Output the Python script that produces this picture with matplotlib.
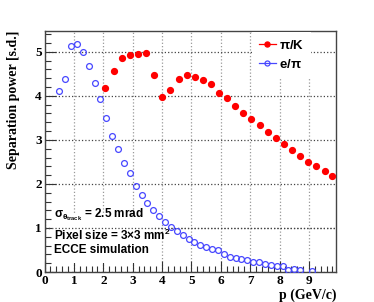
import matplotlib
matplotlib.use('Agg')
import matplotlib.pyplot as plt
from matplotlib.ticker import MultipleLocator
from matplotlib.patches import Rectangle
from matplotlib.lines import Line2D

# ======================
# DATA
# ======================

# pi/K separation
p_piK = [2.07, 2.35, 2.63, 2.91, 3.18, 3.45, 3.73, 4.01, 4.28, 4.56,
         4.84, 5.11, 5.39, 5.66, 5.94, 6.21, 6.49, 6.76, 7.03, 7.32,
         7.59, 7.87, 8.15, 8.42, 8.69, 8.96, 9.25, 9.53, 9.80]
sep_piK = [4.17, 4.56, 4.86, 4.92, 4.95, 4.98, 4.48, 3.98, 4.13, 4.38,
           4.47, 4.43, 4.35, 4.27, 4.07, 3.95, 3.77, 3.62, 3.47, 3.33,
           3.18, 3.04, 2.90, 2.77, 2.64, 2.50, 2.41, 2.30, 2.18]

# e/pi separation
p_epi = [0.5, 0.7, 0.9, 1.1, 1.3, 1.5, 1.7, 1.9, 2.1, 2.3,
         2.5, 2.7, 2.9, 3.1, 3.3, 3.5, 3.7, 3.9, 4.1, 4.3,
         4.5, 4.7, 4.9, 5.1, 5.3, 5.5, 5.7, 5.9, 6.1, 6.3,
         6.5, 6.7, 6.9, 7.1, 7.3, 7.5, 7.7, 7.9, 8.1, 8.3,
         8.5, 8.7, 9.1]
sep_epi = [4.11, 4.39, 5.14, 5.17, 4.99, 4.67, 4.30, 3.93, 3.49, 3.08,
           2.80, 2.48, 2.24, 1.95, 1.74, 1.57, 1.41, 1.28, 1.14, 1.02,
           0.93, 0.83, 0.76, 0.68, 0.61, 0.56, 0.52, 0.49, 0.42, 0.34,
           0.31, 0.30, 0.27, 0.23, 0.22, 0.19, 0.15, 0.13, 0.13, 0.05,
           0.07, 0.04, 0.02]

red = '#ff0000'
blue = '#4848ff'
serif = 'Liberation Serif'
sans = 'Liberation Sans'
plt.rcParams['mathtext.fontset'] = 'custom'
plt.rcParams['mathtext.rm'] = 'Liberation Sans:bold'
plt.rcParams['mathtext.it'] = 'Liberation Sans:bold'
plt.rcParams['mathtext.bf'] = 'Liberation Sans:bold'

fig = plt.figure(figsize=(3.74, 3.02), dpi=100)
ax = fig.add_axes([0.1193, 0.0993, 0.7791, 0.7990])

ax.plot(p_piK, sep_piK, 'o', color=red, ms=4.2, zorder=4)
ax.plot(p_epi, sep_epi, 'o', mfc='none', mec=blue, mew=0.9, ms=4.2, zorder=4)

ax.set_xlim(0, 9.92)
ax.set_ylim(0, 5.48)

# ROOT-like axes
ax.xaxis.set_major_locator(MultipleLocator(1))
ax.xaxis.set_minor_locator(MultipleLocator(0.2))
ax.yaxis.set_major_locator(MultipleLocator(1))
ax.yaxis.set_minor_locator(MultipleLocator(0.2))
ax.tick_params(which='both', direction='in', top=False, right=False, colors='#333333')
ax.tick_params(which='major', length=8, width=0.8, pad=2)
ax.tick_params(which='minor', length=4, width=0.8)
for lab in ax.get_xticklabels() + ax.get_yticklabels():
    lab.set_fontfamily(serif)
    lab.set_fontweight('bold')
    lab.set_fontsize(9.5)
    lab.set_color('black')
for sp in ax.spines.values():
    sp.set_color('#444444')
    sp.set_linewidth(1.0)

ax.grid(True, which='major', axis='x', linestyle=':', color='#999999', linewidth=0.9, zorder=1)
ax.grid(True, which='major', axis='y', linestyle=':', color='#444444', linewidth=0.9, zorder=1)
ax.set_axisbelow(True)

ax.set_xlabel('p (GeV/c)', fontfamily=serif, fontweight='bold', fontsize=10, loc='right')
ax.xaxis.set_label_coords(1.0, -0.07)
ax.set_ylabel('Separation power [s.d.]', fontfamily=serif, fontweight='bold', fontsize=10, loc='top')
ax.yaxis.set_label_coords(-0.085, 1.0)

# white pave behind the text block
ax.add_patch(Rectangle((0.25, 0.2), 3.5, 1.15, facecolor='white', edgecolor='none', zorder=2))
ax.axhline(1.0, linestyle=':', color='#444444', linewidth=0.9, zorder=2.5)

ax.text(0.32, 1.30, r'$\sigma_{\theta_{track}}$ = 2.5 mrad', fontfamily=sans, fontweight='bold',
        fontsize=8.5, va='center', zorder=3)
ax.text(0.32, 0.84, r'Pixel size = 3$\times$3 mm$^2$', fontfamily=sans, fontweight='bold',
        fontsize=8.5, va='center', zorder=3)
ax.text(0.32, 0.50, 'ECCE simulation', fontfamily=sans, fontweight='bold',
        fontsize=8.5, va='center', zorder=3)

# legend entries with line through marker (ROOT "lep" style)
handles = [Line2D([], [], color=red, marker='o', ms=3.6, lw=0.9),
           Line2D([], [], color=blue, marker='o', mfc='none', mec=blue, mew=0.9, ms=3.6, lw=0.9)]
leg = ax.legend(handles, [r'$\pi$/K', r'e/$\pi$'], loc='upper left',
                bbox_to_anchor=(0.69, 1.02), frameon=True,
                fancybox=False, framealpha=1.0, edgecolor='none', handlelength=1.3,
                handletextpad=0.2, labelspacing=0.45, borderpad=0.5,
                prop={'family': sans, 'weight': 'bold', 'size': 9.5})
leg.set_zorder(5)

fig.savefig('out.png', dpi=100)
